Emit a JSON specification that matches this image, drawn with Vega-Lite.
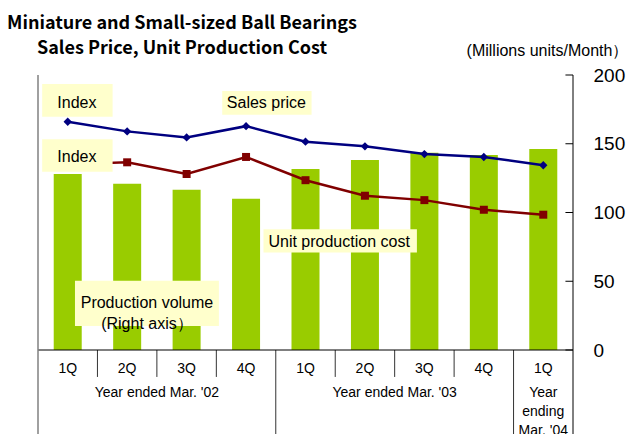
{
  "$schema": "https://vega.github.io/schema/vega-lite/v6.json",
  "width": 545,
  "height": 275,
  "autosize": {"type": "none"},
  "padding": {"left": 33, "top": 75, "right": 60, "bottom": 84},
  "background": "white",
  "config": {
    "view": {"stroke": null},
    "font": "Liberation Sans",
    "axisRight": {
      "domain": false, "ticks": false, "tickSize": 0, "grid": false,
      "labelFontSize": 19, "labelPadding": 15, "labelColor": "black", "labelFont": "Liberation Sans",
      "titleAngle": 0, "titleX": -31, "titleY": -25,
      "titleFontSize": 16, "titleFontWeight": "normal", "titleAlign": "center", "titleBaseline": "middle",
      "titleColor": "black", "titleFont": "Liberation Sans"
    }
  },
  "title": {
    "text": ["Miniature and Small-sized Ball Bearings", "Sales Price, Unit Production Cost"],
    "font": "Noto Sans CJK JP",
    "fontSize": 18,
    "fontWeight": "bold",
    "color": "black",
    "anchor": "start",
    "align": "center",
    "baseline": "bottom",
    "dx": 149,
    "dy": 26,
    "frame": "group",
    "lineHeight": 25,
    "offset": -8
  },
  "datasets": {
    "main": [
      {"q": "1Q", "pos": 0.5, "volume": 128, "price": 166, "cost": 135},
      {"q": "2Q", "pos": 1.5, "volume": 121, "price": 159, "cost": 136.5},
      {"q": "3Q", "pos": 2.5, "volume": 116.5, "price": 154.6, "cost": 128},
      {"q": "4Q", "pos": 3.5, "volume": 110, "price": 162.8, "cost": 140.4},
      {"q": "1Q", "pos": 4.5, "volume": 131.7, "price": 151.5, "cost": 123.5},
      {"q": "2Q", "pos": 5.5, "volume": 138.2, "price": 148.1, "cost": 112.2},
      {"q": "3Q", "pos": 6.5, "volume": 143.5, "price": 142.5, "cost": 109},
      {"q": "4Q", "pos": 7.5, "volume": 141.8, "price": 140.4, "cost": 102},
      {"q": "1Q", "pos": 8.5, "volume": 146.2, "price": 134.4, "cost": 98.4}
    ],
    "years": [
      {"label": "Year ended Mar. '02", "pos": 2},
      {"label": "Year ended Mar. '03", "pos": 6},
      {"label": "Year\nending\nMar. '04", "pos": 8.5}
    ],
    "qseps": [{"pos": 1}, {"pos": 2}, {"pos": 3}, {"pos": 5}, {"pos": 6}, {"pos": 7}],
    "yseps": [{"pos": 4}, {"pos": 8}],
    "yticks": [{"v": 0}, {"v": 50}, {"v": 100}, {"v": 150}, {"v": 200}],
    "notes": [
      {"label": "Index", "tx": 0.655, "ty": 179.9, "x0": 0.07, "x1": 1.255, "y0": 193.5, "y1": 169.7},
      {"label": "Index", "tx": 0.655, "ty": 140.6, "x0": 0.07, "x1": 1.255, "y0": 153.2, "y1": 129.7},
      {"label": "Sales price", "tx": 3.842, "ty": 179.4, "x0": 3.099, "x1": 4.602, "y0": 188.4, "y1": 171.1},
      {"label": "Unit production cost", "tx": 5.066, "ty": 78.8, "x0": 3.793, "x1": 6.374, "y0": 87.8, "y1": 71.0},
      {"label": "Production volume\n(Right axis）", "tx": 1.833, "ty": 34.3, "x0": 0.622, "x1": 3.043, "y0": 50.4, "y1": 17.5}
    ]
  },
  "layer": [
    {
      "data": {"name": "main"},
      "mark": {"type": "bar", "width": 28, "color": "#99CC00"},
      "encoding": {
        "x": {"field": "pos", "type": "quantitative", "scale": {"domain": [0, 9], "nice": false, "zero": false}, "axis": null},
        "y": {"field": "volume", "type": "quantitative", "scale": {"domain": [0, 200], "nice": false},
          "axis": {"orient": "right", "values": [0, 50, 100, 150, 200], "title": "(Millions units/Month）"}}
      }
    },
    {
      "data": {"name": "main"},
      "mark": {"type": "line", "color": "#000080", "strokeWidth": 2.5, "point": {"shape": "diamond", "filled": true, "size": 70, "color": "#000080"}},
      "encoding": {
        "x": {"field": "pos", "type": "quantitative", "axis": null},
        "y": {"field": "price", "type": "quantitative",
          "axis": {"orient": "right", "values": [0, 50, 100, 150, 200], "title": "(Millions units/Month）"}}
      }
    },
    {
      "data": {"name": "main"},
      "mark": {"type": "line", "color": "#800000", "strokeWidth": 2.5, "point": {"shape": "square", "filled": true, "size": 64, "color": "#800000"}},
      "encoding": {
        "x": {"field": "pos", "type": "quantitative", "axis": null},
        "y": {"field": "cost", "type": "quantitative",
          "axis": {"orient": "right", "values": [0, 50, 100, 150, 200], "title": "(Millions units/Month）"}}
      }
    },
    {
      "data": {"name": "notes"},
      "mark": {"type": "rect", "color": "#FFFFCC"},
      "encoding": {
        "x": {"field": "x0", "type": "quantitative", "axis": null},
        "x2": {"field": "x1"},
        "y": {"field": "y0", "type": "quantitative",
          "axis": {"orient": "right", "values": [0, 50, 100, 150, 200], "title": "(Millions units/Month）"}},
        "y2": {"field": "y1"}
      }
    },
    {
      "data": {"name": "notes"},
      "mark": {"type": "text", "fontSize": 16, "lineBreak": "\n", "lineHeight": 21, "baseline": "middle", "align": "center", "color": "black"},
      "encoding": {
        "x": {"field": "tx", "type": "quantitative", "axis": null},
        "y": {"field": "ty", "type": "quantitative",
          "axis": {"orient": "right", "values": [0, 50, 100, 150, 200], "title": "(Millions units/Month）"}},
        "text": {"field": "label"}
      }
    },
    {
      "data": {"name": "main"},
      "mark": {"type": "text", "fontSize": 14, "baseline": "middle", "align": "center", "color": "black"},
      "encoding": {
        "x": {"field": "pos", "type": "quantitative", "axis": null},
        "y": {"datum": -14, "type": "quantitative",
          "axis": {"orient": "right", "values": [0, 50, 100, 150, 200], "title": "(Millions units/Month）"}},
        "text": {"field": "q"}
      }
    },
    {
      "data": {"name": "years"},
      "mark": {"type": "text", "fontSize": 14, "baseline": "middle", "lineBreak": "\n", "lineHeight": 19, "align": "center", "color": "black"},
      "encoding": {
        "x": {"field": "pos", "type": "quantitative", "axis": null},
        "y": {"datum": -31.3, "type": "quantitative",
          "axis": {"orient": "right", "values": [0, 50, 100, 150, 200], "title": "(Millions units/Month）"}},
        "text": {"field": "label"}
      }
    },
    {
      "data": {"name": "qseps"},
      "mark": {"type": "rule", "color": "#333333", "strokeWidth": 1},
      "encoding": {
        "x": {"field": "pos", "type": "quantitative", "axis": null},
        "y": {"datum": 0, "type": "quantitative",
          "axis": {"orient": "right", "values": [0, 50, 100, 150, 200], "title": "(Millions units/Month）"}},
        "y2": {"datum": -19.6}
      }
    },
    {
      "data": {"name": "yseps"},
      "mark": {"type": "rule", "color": "#333333", "strokeWidth": 1},
      "encoding": {
        "x": {"field": "pos", "type": "quantitative", "axis": null},
        "y": {"datum": 0, "type": "quantitative",
          "axis": {"orient": "right", "values": [0, 50, 100, 150, 200], "title": "(Millions units/Month）"}},
        "y2": {"datum": -62}
      }
    },
    {
      "data": {"name": "yticks"},
      "mark": {"type": "rule", "color": "black", "strokeWidth": 1},
      "encoding": {
        "x": {"datum": 8.873, "type": "quantitative", "axis": null},
        "x2": {"datum": 9},
        "y": {"field": "v", "type": "quantitative",
          "axis": {"orient": "right", "values": [0, 50, 100, 150, 200], "title": "(Millions units/Month）"}}
      }
    },
    {
      "data": {"values": [{}]},
      "mark": {"type": "rule", "color": "black", "strokeWidth": 1},
      "encoding": {
        "x": {"datum": 0, "type": "quantitative", "axis": null},
        "x2": {"datum": 9},
        "y": {"datum": 0, "type": "quantitative",
          "axis": {"orient": "right", "values": [0, 50, 100, 150, 200], "title": "(Millions units/Month）"}}
      }
    },
    {
      "data": {"values": [{}]},
      "mark": {"type": "rule", "color": "#808080", "strokeWidth": 1.5},
      "encoding": {
        "x": {"datum": 0, "type": "quantitative", "axis": null},
        "y": {"datum": 200, "type": "quantitative",
          "axis": {"orient": "right", "values": [0, 50, 100, 150, 200], "title": "(Millions units/Month）"}},
        "y2": {"datum": -62}
      }
    },
    {
      "data": {"values": [{}]},
      "mark": {"type": "rule", "color": "black", "strokeWidth": 1},
      "encoding": {
        "x": {"datum": 9, "type": "quantitative", "axis": null},
        "y": {"datum": 200, "type": "quantitative",
          "axis": {"orient": "right", "values": [0, 50, 100, 150, 200], "title": "(Millions units/Month）"}},
        "y2": {"datum": -62}
      }
    }
  ]
}
